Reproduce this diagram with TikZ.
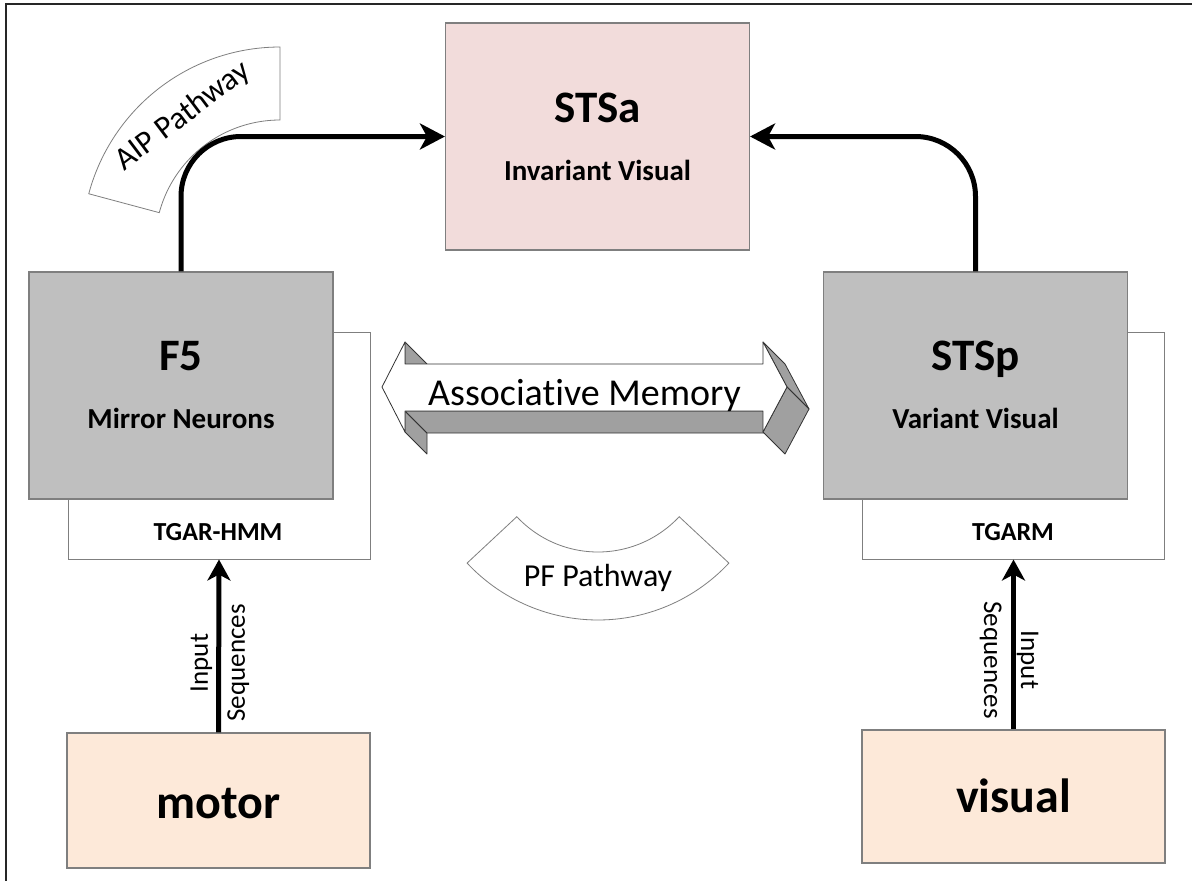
\documentclass[tikz,border=0pt]{standalone}
\usepackage{fontspec}
\setmainfont{Carlito}[Ligatures=NoCommon]
\usetikzlibrary{arrows.meta}
\definecolor{boxgray}{HTML}{BFBFBF}
\definecolor{edgegray}{HTML}{7F7F7F}
\definecolor{rosefill}{HTML}{F2DCDB}
\definecolor{peachfill}{HTML}{FDE9D9}
\definecolor{facegray}{HTML}{A0A0A0}
\definecolor{framecol}{HTML}{262626}
\newcommand\pxfont[1]{\fontsize{#1}{#1}\selectfont}

\begin{document}
\begin{tikzpicture}[x=1pt,y=-1pt,
  panel/.style={draw=edgegray, line width=1.1pt, inner sep=0pt,
                minimum width=304pt, minimum height=227pt},
  under/.style={draw=edgegray, line width=1pt, fill=white, inner sep=0pt,
                minimum width=302pt, minimum height=227pt},
  source/.style={draw=edgegray, line width=1.1pt, fill=peachfill, inner sep=0pt,
                minimum width=303pt},
  flow/.style={line width=5pt, rounded corners=60pt,
               -{Stealth[length=25pt,width=26pt,inset=7pt]}},
  feed/.style={line width=5pt, -{Stealth[length=21pt,width=23pt,inset=6pt]}},
  band/.style={draw=edgegray, line width=0.8pt, fill=white},
  face/.style={draw=black!80, line width=0.8pt, fill=facegray, line join=round},
  title/.style={font=\bfseries\pxfont{45}, anchor=base, inner sep=0pt},
  sub/.style={font=\bfseries\pxfont{29}, anchor=base, inner sep=0pt},
  model/.style={font=\bfseries\pxfont{26}, anchor=base, inner sep=0pt},
  big/.style={font=\bfseries\pxfont{48}, anchor=base, inner sep=0pt},
  seq/.style={font=\pxfont{27}, align=center, inner sep=0pt,
              execute at begin node={\baselineskip=37pt}},
  pathlbl/.style={font=\pxfont{32}, inner sep=0pt}]

\useasboundingbox (0,0) rectangle (1192,881);
\fill[white] (0,0) rectangle (1192,881);

% frame
\draw[framecol, line width=2.2pt] (6,881) -- (6,4) -- (1192,4);

% model boxes sitting behind the area boxes
\node[under] (tgar) at (219,445.5) {};
\node[under] (tgarm) at (1013.5,445.5) {};
\node[model] (tgarlbl) at (218,540) {TGAR-HMM};
\node[model] (tgarmlbl) at (1013,540) {TGARM};

% cortical areas
\node[panel, fill=rosefill] (stsa) at (597.5,136.5) {};
\node[panel, fill=boxgray] (f5) at (181,385.5) {};
\node[panel, fill=boxgray] (stsp) at (975.5,385.5) {};

\node[title] (stsat) at (597.5,122) {STSa};
\node[sub] (stsas) at (597.5,180) {Invariant Visual};
\node[title] (f5t) at (181,370) {F5};
\node[sub] (f5s) at (181,428) {Mirror Neurons};
\node[title] (stspt) at (975.5,370) {STSp};
\node[sub] (stsps) at (975.5,428) {Variant Visual};

% sensory sources
\node[source, minimum height=135pt] (motor) at (218.5,800.5) {};
\node[source, minimum height=133pt] (visual) at (1013.5,796.5) {};
\node[big] (motort) at (218.5,818) {motor};
\node[big] (visualt) at (1013.5,812) {visual};

% pathway bands
\draw[band] plot[domain=195:270, samples=60] ({280+198*cos(\x)},{245+198*sin(\x)})
  -- plot[domain=270:195, samples=60] ({280+125*cos(\x)},{245+125*sin(\x)}) -- cycle;
\node[pathlbl, rotate=37] (aip) at (183,116) {AIP Pathway};

\draw[band] plot[domain=43:137, samples=60] ({598+179*cos(\x)},{441+179*sin(\x)})
  -- plot[domain=137:43, samples=60] ({598+111*cos(\x)},{441+111*sin(\x)}) -- cycle;
\node[pathlbl] (pf) at (598,578) {PF Pathway};

% projections to STSa
\draw[flow] (f5.north) |- (stsa.west);
\draw[flow] (stsp.north) |- (stsa.east);

% input streams
\draw[feed] (motor.north) -- (tgar.south);
\draw[feed] (visual.north) -- (tgarm.south);
\node[seq, rotate=90] (inleft) at (220,663) {Input\\Sequences};
\node[seq, rotate=-90] (inright) at (1009,660) {Input\\Sequences};

% associative memory: extruded double arrow
\draw[face] (405,342) -- (427,364) -- (427,386) -- (405,364) -- cycle;
\draw[face] (405,411) -- (427,433) -- (427,454) -- (405,432) -- cycle;
\draw[face] (405,411) -- (763,411) -- (785,433) -- (427,433) -- cycle;
\draw[face] (763,342) -- (787,387) -- (809,409) -- (785,364) -- cycle;
\draw[face] (787,387) -- (763,432) -- (785,454) -- (809,409) -- cycle;
\draw[draw=black!80, line width=0.8pt, fill=white, line join=round]
  (382,387) -- (405,342) -- (405,364) -- (763,364) -- (763,342) -- (787,387)
  -- (763,432) -- (763,411) -- (405,411) -- (405,432) -- cycle;
\node[font=\pxfont{38}, anchor=base, inner sep=0pt] (assoc) at (584.5,405) {Associative Memory};

\end{tikzpicture}
\end{document}
